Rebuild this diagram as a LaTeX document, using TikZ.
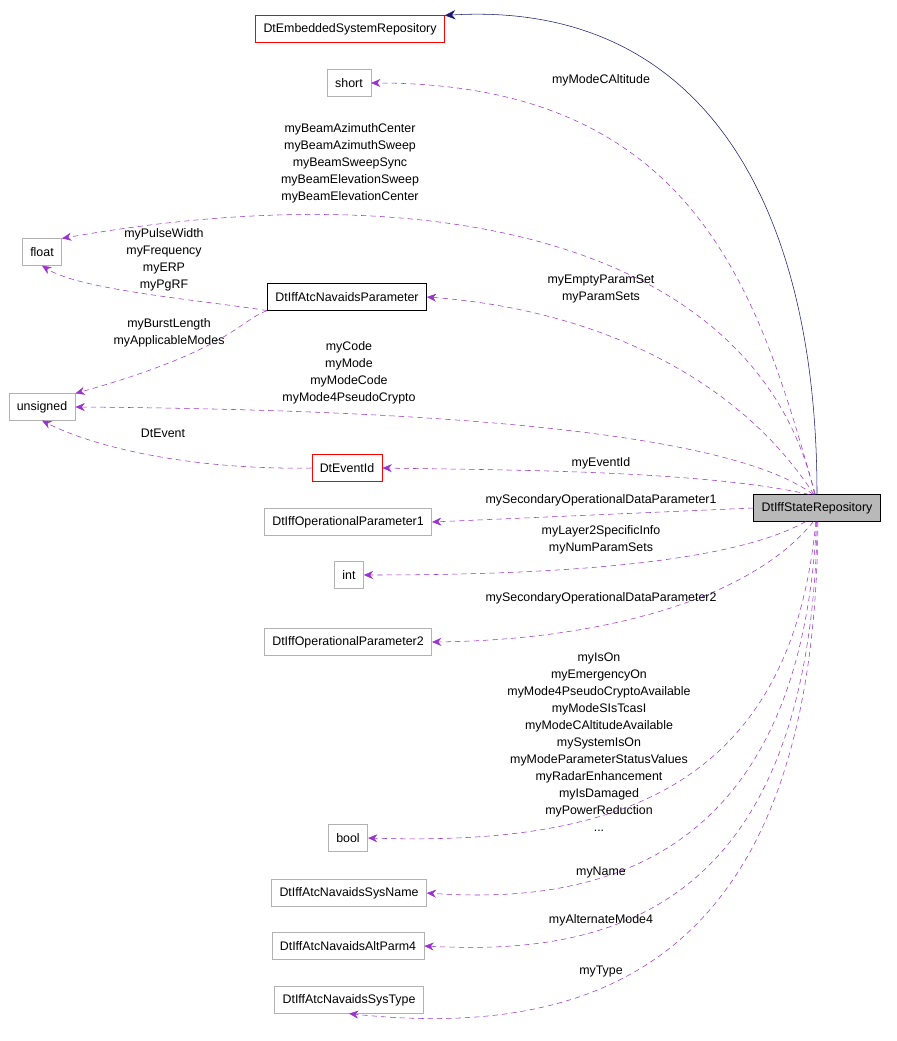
\documentclass[tikz,border=0pt]{standalone}
\usepackage{fontspec}
\setmainfont{Liberation Sans}
\usetikzlibrary{positioning, arrows.meta}
\definecolor{edgepurple}{HTML}{9A32CD}
\definecolor{navy}{HTML}{191970}
\tikzset{
  cls/.style={draw=gray!60, fill=white, font=\fontsize{9.3}{12.8}\selectfont, minimum height=20pt, inner xsep=6pt},
  redcls/.style={cls, draw=red},
  blkcls/.style={cls, draw=black},
  member/.style={draw=edgepurple, dash pattern=on 4pt off 3pt, -{Stealth[length=7pt,width=6pt]}},
  lbl/.style={font=\fontsize{9.3}{12.8}\selectfont, align=center, inner sep=0pt}
}
\begin{document}
\begin{tikzpicture}[x=0.75pt,y=-0.75pt]
\useasboundingbox (0,0) rectangle (896,1041);
% classes
\node[redcls]  (esr)   at (350,29)  {DtEmbeddedSystemRepository};
\node[cls]     (short) at (349,83)  {short};
\node[cls]     (flt)   at (42,252)  {float};
\node[blkcls]  (nav)   at (347,297) {DtIffAtcNavaidsParameter};
\node[cls]     (uns)   at (42,407)  {unsigned};
\node[redcls]  (evt)   at (347,468) {DtEventId};
\node[cls]     (op1)   at (348,522) {DtIffOperationalParameter1};
\node[cls]     (int)   at (349,575) {int};
\node[cls]     (op2)   at (348,642) {DtIffOperationalParameter2};
\node[cls]     (bool)  at (348,838) {bool};
\node[cls]     (sname) at (349,893) {DtIffAtcNavaidsSysName};
\node[cls]     (alt)   at (348,946) {DtIffAtcNavaidsAltParm4};
\node[cls]     (stype) at (349,1000) {DtIffAtcNavaidsSysType};
\node[cls, draw=black, fill=gray!55] (sr) at (817,508) {DtIffStateRepository};
% inheritance
\draw[navy, -{Stealth[length=8pt,width=7pt]}] (sr.north) .. controls (817,200) and (700,0) .. (esr.north east);
% members
\draw[member] (sr.97)  .. controls (760,300) and (700,83) .. (short.east);
\draw[member] (sr.100) .. controls (760,250) and (450,170) .. (flt.north east);
\draw[member] (sr.103) .. controls (740,380) and (600,310) .. (nav.east);
\draw[member] (sr.106) .. controls (740,440) and (500,410) .. (uns.east);
\draw[member] (sr.120) .. controls (700,470) and (500,470) .. (evt.east);
\draw[member] (sr.west) -- (op1.east);
\draw[member] (sr.230) .. controls (720,570) and (500,575) .. (int.east);
\draw[member] (sr.255) .. controls (750,600) and (600,640) .. (op2.east);
\draw[member] (sr.265) .. controls (790,800) and (600,845) .. (bool.east);
\draw[member] (sr.268) .. controls (800,860) and (600,905) .. (sname.east);
\draw[member] (sr.271) .. controls (810,920) and (600,955) .. (alt.east);
\draw[member] (sr.274) .. controls (815,960) and (600,1040) .. (stype.south);
\draw[member] (nav.south west) .. controls (200,300) and (80,290) .. (flt.south);
\draw[member] (nav.south west) .. controls (240,320) and (230,350) .. (uns.north east);
\draw[member] (evt.west) .. controls (200,470) and (100,450) .. (uns.south);
% labels
\node[lbl] at (601,80)  {myModeCAltitude};
\node[lbl] at (350,163) {myBeamAzimuthCenter\\myBeamAzimuthSweep\\myBeamSweepSync\\myBeamElevationSweep\\myBeamElevationCenter};
\node[lbl] at (164,260) {myPulseWidth\\myFrequency\\myERP\\myPgRF};
\node[lbl] at (169,333) {myBurstLength\\myApplicableModes};
\node[lbl] at (601,289) {myEmptyParamSet\\myParamSets};
\node[lbl] at (349,373) {myCode\\myMode\\myModeCode\\myMode4PseudoCrypto};
\node[lbl] at (163,433) {DtEvent};
\node[lbl] at (601,463) {myEventId};
\node[lbl] at (601,500) {mySecondaryOperationalDataParameter1};
\node[lbl] at (601,540) {myLayer2SpecificInfo\\myNumParamSets};
\node[lbl] at (601,598) {mySecondaryOperationalDataParameter2};
\node[lbl] at (599,742) {myIsOn\\myEmergencyOn\\myMode4PseudoCryptoAvailable\\myModeSIsTcasI\\myModeCAltitudeAvailable\\mySystemIsOn\\myModeParameterStatusValues\\myRadarEnhancement\\myIsDamaged\\myPowerReduction\\...};
\node[lbl] at (601,873) {myName};
\node[lbl] at (601,920) {myAlternateMode4};
\node[lbl] at (601,972) {myType};
\end{tikzpicture}
\end{document}
